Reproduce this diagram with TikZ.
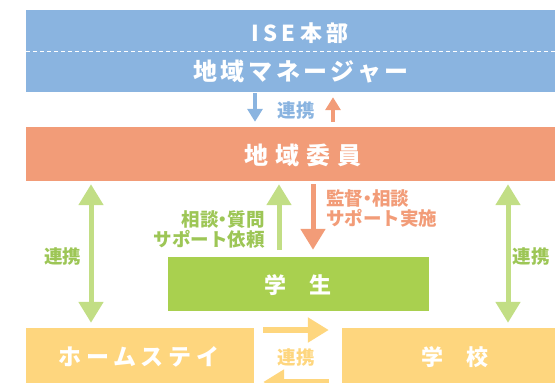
\documentclass[tikz,border=0pt]{standalone}
\usepackage{fontspec}
\setmainfont{Noto Sans CJK JP}
\newfontfamily\jpA[LetterSpace=15]{Noto Sans CJK JP}
\newfontfamily\jpD[LetterSpace=20]{Noto Sans CJK JP}
\newfontfamily\jpB[LetterSpace=28]{Noto Sans CJK JP}
\usetikzlibrary{arrows.meta}
\definecolor{cblue}{HTML}{8AB4E0}
\definecolor{corange}{HTML}{F29C78}
\definecolor{cgreen}{HTML}{A9D04F}
\definecolor{cgreenl}{HTML}{C2DE85}
\definecolor{cgreent}{HTML}{9DC656}
\definecolor{cyellow}{HTML}{FED67E}
\newcommand{\hdot}{\makebox[0.5em]{・}}
\tikzset{
  boxtext/.style={text=white, font=\bfseries},
  lbl/.style={font=\bfseries\fontsize{18.5}{20}\selectfont, inner sep=0pt},
  bigarrow/.style={line width=5pt, -{Triangle[width=24pt,length=21pt]}},
  bigdarrow/.style={line width=5pt, {Triangle[width=24pt,length=21pt]}-{Triangle[width=24pt,length=21pt]}},
  smallarrow/.style={line width=4pt, -{Triangle[width=15pt,length=13pt]}},
  harrow/.style={line width=6.5pt, -{Triangle[width=24pt,length=21pt]}, cyellow},
}
\begin{document}
\begin{tikzpicture}[x=1pt,y=-1pt]
\useasboundingbox (0,0) rectangle (555,383);
\clip (0,0) rectangle (555,383);
% boxes
\fill[cblue] (26,10) rectangle (570,92);
\node[inner sep=0pt, minimum width=544pt, minimum height=82pt] (hq) at (298,51) {};
\draw[white, line width=0.8pt, dash pattern=on 4pt off 3pt] (26,51) -- (570,51);
\fill[corange] (26,127) rectangle (570,181);
\node[inner sep=0pt, minimum width=544pt, minimum height=54pt] (ro) at (298,154) {};
\fill[cgreen] (168,257) rectangle (429,311);
\node[inner sep=0pt, minimum width=261pt, minimum height=54pt] (st) at (298.5,284) {};
\fill[cyellow] (26,328) rectangle (254,395);
\node[inner sep=0pt, minimum width=228pt, minimum height=67pt] (hs) at (140,361.5) {};
\fill[cyellow] (342,328) rectangle (570,395);
\node[inner sep=0pt, minimum width=228pt, minimum height=67pt] (sc) at (456,361.5) {};
% box texts
\node[boxtext, font=\jpD\bfseries\fontsize{22}{24}\selectfont] (t1) at (300,33) {ISE本部};
\node[boxtext, font=\jpA\bfseries\fontsize{24}{26}\selectfont] (t2) at (301,72) {地域マネージャー};
\node[boxtext, font=\jpB\bfseries\fontsize{24}{26}\selectfont] (t3) at (303,155) {地域委員};
\node[boxtext, font=\bfseries\fontsize{22}{24}\selectfont] (t4) at (298,285) {学\hspace{1.05em}生};
\node[boxtext, font=\jpD\bfseries\fontsize{23}{24}\selectfont] (t5) at (139,357) {ホームステイ};
\node[boxtext, font=\bfseries\fontsize{22}{24}\selectfont] (t6) at (455,357) {学\hspace{1.05em}校};
% coordinates for connectors
\coordinate (xa) at (255,0);
\coordinate (xb) at (333,0);
\coordinate (xl) at (91,0);
\coordinate (xr) at (508,0);
\coordinate (xm1) at (279,0);
\coordinate (xm2) at (313,0);
\coordinate (ya) at (0,330);
\coordinate (yb) at (0,382);
% top arrows
\draw[smallarrow, cblue, shorten <=1pt, shorten >=5pt] (hq.south -| xa) -- (ro.north -| xa);
\draw[smallarrow, corange, shorten <=5pt, shorten >=5pt] (ro.north -| xb) -- (hq.south -| xb);
\node[lbl, text=cblue] (l1) at (296,110) {連携};
% side arrows
\draw[bigdarrow, cgreenl, shorten <=3pt, shorten >=5pt] (ro.south -| xl) -- (hs.north -| xl);
\draw[bigdarrow, cgreenl, shorten <=3pt, shorten >=5pt] (ro.south -| xr) -- (sc.north -| xr);
\node[lbl, text=cgreent] (l2) at (63,256) {連携};
\node[lbl, text=cgreent] (l3) at (531,256) {連携};
% middle arrows
\draw[bigarrow, cgreenl, shorten <=7pt, shorten >=3pt] (st.north -| xm1) -- (ro.south -| xm1);
\draw[bigarrow, corange, shorten <=3pt, shorten >=7pt] (ro.south -| xm2) -- (st.north -| xm2);
\node[lbl, text=cgreent, anchor=east, align=right] (l4) at (265,229) {相談\hdot 質問\\サポート依頼};
\node[lbl, text=corange, anchor=west, align=left] (l5) at (326,208) {監督\hdot 相談\\サポート実施};
% bottom arrows
\draw[harrow, shorten <=9pt, shorten >=13pt] (hs.east |- ya) -- (sc.west |- ya);
\draw[harrow, shorten <=13pt, shorten >=9pt] (sc.west |- yb) -- (hs.east |- yb);
\node[lbl, text=cyellow] (l6) at (296,357) {連携};
\end{tikzpicture}
\end{document}
